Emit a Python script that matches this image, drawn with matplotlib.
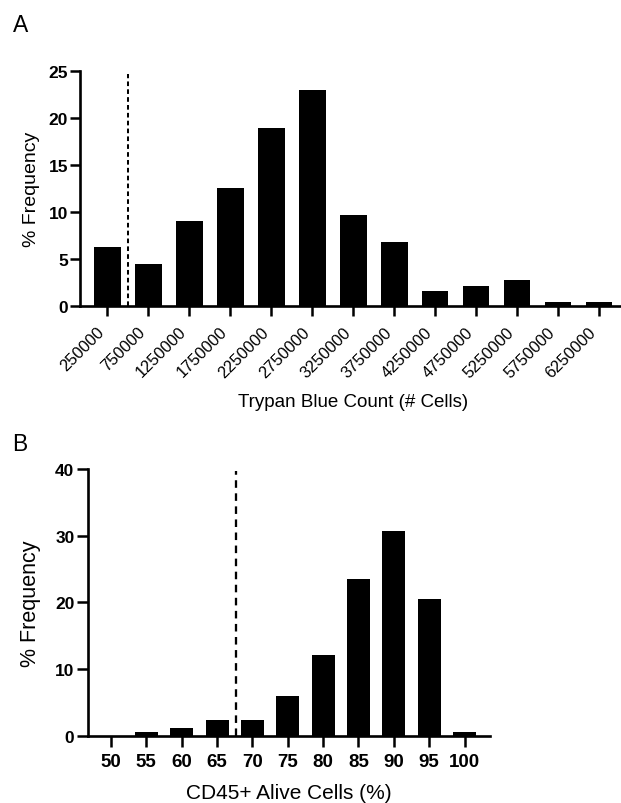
#!/usr/bin/env python3

import matplotlib
matplotlib.use("Agg")
import matplotlib.pyplot as plt
import matplotlib.transforms as mtransforms
import numpy as np

plt.rcParams["font.family"] = ["Liberation Sans", "DejaVu Sans"]

# Panel A: Trypan blue count histogram
trypan_bins = ["250000", "750000", "1250000", "1750000", "2250000", "2750000",
               "3250000", "3750000", "4250000", "4750000", "5250000", "5750000",
               "6250000"]
trypan_freq = [6.3, 4.5, 9.1, 12.6, 18.9, 23.0, 9.7, 6.8, 1.6, 2.15, 2.8, 0.42, 0.42]
trypan_cutoff = 0.5        # between first and second bin
trypan_cutoff_top = 24.7

# Panel B: CD45+ alive cells histogram
cd45_bins = ["50", "55", "60", "65", "70", "75", "80", "85", "90", "95", "100"]
cd45_freq = [0.0, 0.6, 1.2, 2.4, 2.4, 6.0, 12.05, 23.45, 30.65, 20.45, 0.6]
cd45_cutoff = 3.54         # ~67.5 %
cd45_cutoff_top = 39.75

W, H = 621, 804
DPI = 100

fig = plt.figure(figsize=(W / DPI, H / DPI), dpi=DPI)


def px_axes(left, top, right, bottom):
    return fig.add_axes([left / W, 1 - bottom / H, (right - left) / W, (bottom - top) / H])


def style_axes(ax, tick_len, lw=1.9):
    for side in ("top", "right"):
        ax.spines[side].set_visible(False)
    for side in ("left", "bottom"):
        ax.spines[side].set_linewidth(lw)
    ax.tick_params(direction="out", length=tick_len, width=lw * 0.95, color="black")


# ---------- panel A ----------
ax_a = px_axes(80, 72, 626.5, 307.4)
xa = np.arange(len(trypan_bins))
ax_a.bar(xa, trypan_freq, width=0.65, color="black", edgecolor="none", zorder=2)
ax_a.vlines(trypan_cutoff, 0, trypan_cutoff_top, colors="black", linewidth=1.45,
            linestyles=(0, (2.3, 1.6)), zorder=3)
ax_a.set_xlim(-0.67, len(trypan_bins) - 1 + 0.67)
ax_a.set_ylim(0, 25)
ax_a.set_yticks([0, 5, 10, 15, 20, 25])
ax_a.set_xticks(xa)
ax_a.set_xticklabels(trypan_bins, rotation=45, ha="right", fontsize=11.8)
offset = mtransforms.ScaledTranslation(5 / DPI, 0, fig.dpi_scale_trans)
for lbl in ax_a.get_xticklabels():
    lbl.set_transform(lbl.get_transform() + offset)
for lbl in ax_a.get_yticklabels():
    lbl.set_fontweight("bold")
    lbl.set_fontsize(12.5)
style_axes(ax_a, tick_len=7.5)
ax_a.tick_params(axis="y", pad=1)
ax_a.tick_params(axis="x", pad=5)
ax_a.set_ylabel("% Frequency", fontsize=14)
ax_a.yaxis.set_label_coords(-0.0732, 0.5)
ax_a.set_xlabel("Trypan Blue Count (# Cells)", fontsize=13.5)
ax_a.xaxis.set_label_coords(0.5, -0.368)

# ---------- panel B ----------
ax_b = px_axes(88.3, 470, 490, 736.7)
xb = np.arange(len(cd45_bins))
ax_b.bar(xb, cd45_freq, width=0.65, color="black", edgecolor="none", zorder=2)
ax_b.vlines(cd45_cutoff, 0, cd45_cutoff_top, colors="black", linewidth=1.65,
            linestyles=(0, (3.3, 2.4)), zorder=3)
ax_b.set_xlim(-0.64, len(cd45_bins) - 1 + 0.72)
ax_b.set_ylim(0, 40)
ax_b.set_yticks([0, 10, 20, 30, 40])
ax_b.set_xticks(xb)
ax_b.set_xticklabels(cd45_bins, fontsize=13.5, fontweight="bold")
for lbl in ax_b.get_yticklabels():
    lbl.set_fontweight("bold")
    lbl.set_fontsize(12.5)
style_axes(ax_b, tick_len=8)
ax_b.tick_params(axis="y", pad=2)
ax_b.tick_params(axis="x", pad=4.5)
ax_b.set_ylabel("% Frequency", fontsize=15.5)
ax_b.yaxis.set_label_coords(-0.118, 0.5)
ax_b.set_xlabel("CD45+ Alive Cells (%)", fontsize=15)
ax_b.xaxis.set_label_coords(0.5, -0.176)

# panel letters
fig.text(12.5 / W, 1 - 32.3 / H, "A", fontsize=16.5, ha="left", va="baseline")
fig.text(12.5 / W, 1 - 450.7 / H, "B", fontsize=16.5, ha="left", va="baseline")

fig.savefig("out.png", dpi=DPI)
plt.close(fig)
